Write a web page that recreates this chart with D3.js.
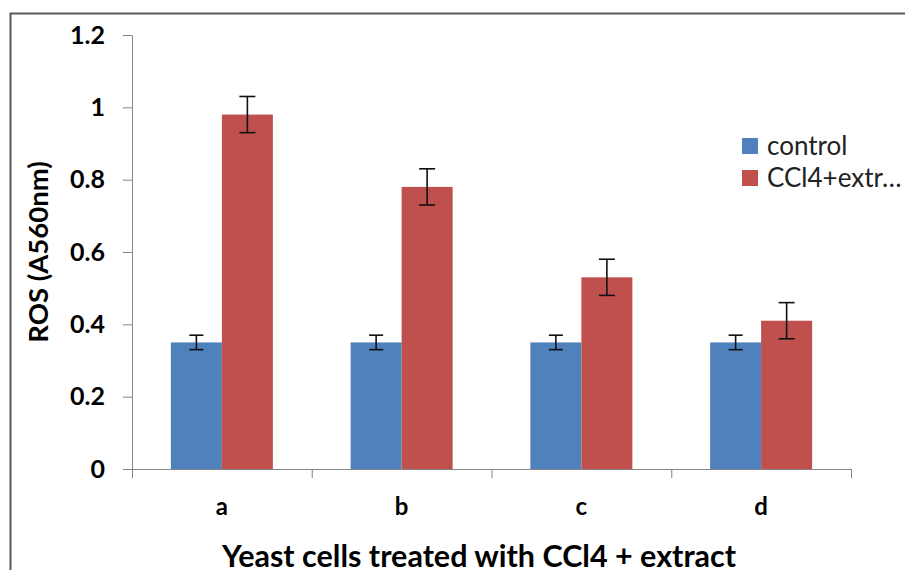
<!DOCTYPE html>
<html>
<head>
<meta charset="utf-8">
<script src="https://cdn.jsdelivr.net/npm/d3@7"></script>
<style>
  body { margin: 0; background: #fff; }
  svg text { font-family: Lato, "Liberation Sans", sans-serif; }
</style>
</head>
<body>
<div id="chart"></div>
<script>
// chart data
const categories = ["a", "b", "c", "d"];
const seriesNames = ["control", "CCl4+extr…"];
const controlValues = [0.35, 0.35, 0.35, 0.35];
const controlErrors = [0.02, 0.02, 0.02, 0.02];
const ccl4Values = [0.98, 0.78, 0.53, 0.41];
const ccl4Errors = [0.05, 0.05, 0.05, 0.05];
const yTicks = [0, 0.2, 0.4, 0.6, 0.8, 1, 1.2];

const colors = ["#4F81BD", "#C0504D"];

const width = 905, height = 570;
const margin = { top: 35, right: 54, bottom: 101, left: 132 };
const innerW = width - margin.left - margin.right;
const innerH = height - margin.top - margin.bottom;

const svg = d3.select("#chart")
  .append("svg")
  .attr("width", width)
  .attr("height", height);

// outer frame
svg.append("rect")
  .attr("x", 10.5).attr("y", 13.5)
  .attr("width", 920).attr("height", 600)
  .attr("fill", "none")
  .attr("stroke", "#5a5a5a")
  .attr("stroke-width", 2);

const g = svg.append("g")
  .attr("transform", "translate(" + margin.left + "," + margin.top + ")");

const x = d3.scaleBand().domain(categories).range([0, innerW]);
const x1 = d3.scaleBand().domain(seriesNames).range([0, 102]);
const y = d3.scaleLinear().domain([0, 1.2]).range([innerH, 0]);

const rows = categories.map((c, i) => ({
  cat: c,
  vals: [
    { s: seriesNames[0], v: controlValues[i], e: controlErrors[i], cap: 14 },
    { s: seriesNames[1], v: ccl4Values[i], e: ccl4Errors[i], cap: 16 }
  ]
}));

// y axis
const yAxis = g.append("g")
  .call(d3.axisLeft(y).tickValues(yTicks).tickFormat(d3.format("")).tickSize(9).tickPadding(18));
yAxis.select(".domain").attr("stroke", "#868686").attr("d", "M0.5," + innerH + "V0.5");
yAxis.selectAll(".tick line").attr("stroke", "#868686");
yAxis.selectAll(".tick text")
  .attr("font-size", 25).attr("font-weight", "bold").attr("fill", "#000")
  .style("font-family", "Lato, sans-serif");

// x axis
const xAxis = g.append("g")
  .attr("transform", "translate(0," + innerH + ")");
xAxis.append("line")
  .attr("x1", -9).attr("x2", innerW)
  .attr("y1", 0.5).attr("y2", 0.5)
  .attr("stroke", "#868686");
xAxis.selectAll(".sep")
  .data(d3.range(categories.length + 1))
  .enter().append("line")
  .attr("x1", d => d * x.bandwidth() + 0.5)
  .attr("x2", d => d * x.bandwidth() + 0.5)
  .attr("y1", 0).attr("y2", 9)
  .attr("stroke", "#868686");
xAxis.selectAll(".cat")
  .data(categories)
  .enter().append("text")
  .attr("x", d => x(d) + x.bandwidth() / 2)
  .attr("y", 46)
  .attr("text-anchor", "middle")
  .attr("font-size", 24).attr("font-weight", "bold")
  .text(d => d);

// bars
const groups = g.selectAll(".grp")
  .data(rows)
  .enter().append("g")
  .attr("transform", d => "translate(" + (x(d.cat) + (x.bandwidth() - 102) / 2) + ",0)");

groups.selectAll("rect")
  .data(d => d.vals)
  .enter().append("rect")
  .attr("x", d => x1(d.s))
  .attr("y", d => y(d.v))
  .attr("width", x1.bandwidth())
  .attr("height", d => innerH - y(d.v))
  .attr("fill", (d, i) => colors[i]);

// error bars
const err = groups.selectAll(".err")
  .data(d => d.vals)
  .enter().append("g")
  .attr("stroke", "#111")
  .attr("stroke-width", 1.6);
err.append("line")
  .attr("x1", d => x1(d.s) + x1.bandwidth() / 2)
  .attr("x2", d => x1(d.s) + x1.bandwidth() / 2)
  .attr("y1", d => y(d.v + d.e))
  .attr("y2", d => y(d.v - d.e));
err.append("line")
  .attr("x1", d => x1(d.s) + x1.bandwidth() / 2 - d.cap / 2)
  .attr("x2", d => x1(d.s) + x1.bandwidth() / 2 + d.cap / 2)
  .attr("y1", d => y(d.v + d.e))
  .attr("y2", d => y(d.v + d.e));
err.append("line")
  .attr("x1", d => x1(d.s) + x1.bandwidth() / 2 - d.cap / 2)
  .attr("x2", d => x1(d.s) + x1.bandwidth() / 2 + d.cap / 2)
  .attr("y1", d => y(d.v - d.e))
  .attr("y2", d => y(d.v - d.e));

// axis titles
svg.append("text")
  .attr("transform", "translate(48," + (margin.top + innerH / 2) + ") rotate(-90)")
  .attr("text-anchor", "middle")
  .attr("font-size", 27.5).attr("font-weight", "bold")
  .text("ROS (A560nm)");

svg.append("text")
  .attr("x", 479)
  .attr("y", 567)
  .attr("text-anchor", "middle")
  .attr("font-size", 30.5).attr("font-weight", "bold")
  .text("Yeast cells treated with CCl4 + extract");

// legend
const legend = svg.append("g").attr("transform", "translate(742,138)");
const li = legend.selectAll(".li")
  .data(seriesNames)
  .enter().append("g")
  .attr("transform", (d, i) => "translate(0," + i * 32 + ")");
li.append("rect")
  .attr("width", 16).attr("height", 16)
  .attr("fill", (d, i) => colors[i]);
li.append("text")
  .attr("x", 25).attr("y", 17)
  .attr("font-size", 26)
  .attr("fill", "#222")
  .text(d => d);
</script>
</body>
</html>
